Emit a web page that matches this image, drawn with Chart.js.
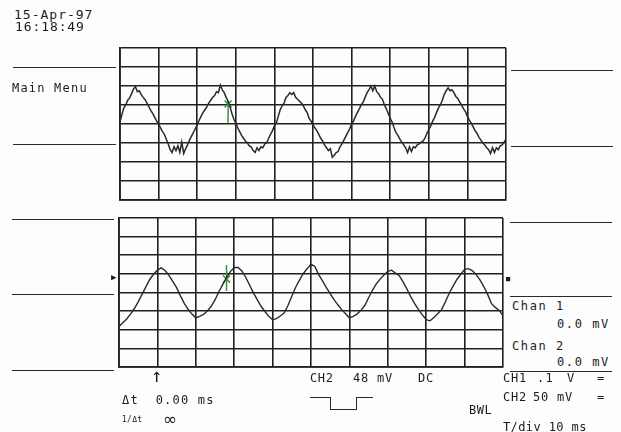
<!DOCTYPE html>
<html>
<head>
<meta charset="utf-8">
<script src="https://cdn.jsdelivr.net/npm/chart.js@4.4.1/dist/chart.umd.min.js"></script>
<style>
    html, body { margin: 0; padding: 0; }
    body { width: 621px; height: 432px; background: #fdfdfd; position: relative; overflow: hidden; }
    canvas { position: absolute; }
    .t { position: absolute; font-family: "DejaVu Sans Mono", monospace; font-size: 12px; line-height: 12px;
         letter-spacing: 1.2px; color: #1c1c1c; white-space: pre; }
    .hl { position: absolute; height: 0; border-top: 1.5px solid #2a2a2a; }
    .trig { position: absolute; border-color: #2a2a2a; border-style: solid; border-width: 0; }
</style>
</head>
<body>
<canvas id="ch1" width="394" height="160" style="left:116px; top:44px;"></canvas>
<canvas id="ch2" width="392" height="157" style="left:115px; top:214px;"></canvas>

<!-- header -->
<div class="t" style="left:14px; top:9px; font-size:13px; letter-spacing:1.0px;">15-Apr-97</div>
<div class="t" style="left:15px; top:21px; font-size:13px; letter-spacing:0.9px;">16:18:49</div>

<!-- left menu -->
<div class="hl" style="left:13px; width:103px; top:67px;"></div>
<div class="t" style="left:12px; top:82px;">Main Menu</div>
<div class="hl" style="left:13px; width:103px; top:144px;"></div>
<div class="hl" style="left:12px; width:102px; top:219px;"></div>
<div class="hl" style="left:12px; width:102px; top:294px;"></div>
<div class="hl" style="left:12px; width:102px; top:370px;"></div>

<!-- right menu -->
<div class="hl" style="left:511px; width:102px; top:70px;"></div>
<div class="hl" style="left:511px; width:102px; top:146px;"></div>
<div class="hl" style="left:510px; width:102px; top:222px;"></div>
<div class="hl" style="left:510px; width:102px; top:296px;"></div>
<div class="hl" style="left:510px; width:102px; top:371px;"></div>
<div class="t" style="left:512px; top:300px; letter-spacing:1.6px;">Chan 1</div>
<div class="t" style="left:557px; top:318px; letter-spacing:1.6px;">0.0 mV</div>
<div class="t" style="left:512px; top:340px; letter-spacing:1.6px;">Chan 2</div>
<div class="t" style="left:557px; top:356px; letter-spacing:1.6px;">0.0 mV</div>

<!-- ground markers -->
<div class="t" style="left:111px; top:271px; font-size:9px; letter-spacing:0;">▶</div>
<div class="t" style="left:506px; top:273px; font-size:7px; letter-spacing:0;">■</div>

<!-- cursor readout -->
<div class="t" style="left:151px; top:366px; font-size:19px; letter-spacing:0; line-height:19px;">↑</div>
<div class="t" style="left:122px; top:394px;">Δt  0.00 ms</div>
<div class="t" style="left:122px; top:416px; font-size:8px; letter-spacing:0.3px; line-height:8px;">1/Δt</div>
<div class="t" style="left:163px; top:411px; font-family:'DejaVu Sans'; font-size:17px; line-height:17px; letter-spacing:0;">∞</div>

<!-- trigger -->
<div class="t" style="left:310px; top:372px; letter-spacing:0.6px;">CH2</div>
<div class="t" style="left:353px; top:372px; letter-spacing:0.8px;">48 mV</div>
<div class="t" style="left:418px; top:372px; letter-spacing:0.8px;">DC</div>
<div class="trig" style="left:310px; top:397px; width:20px; border-top-width:1.5px;"></div>
<div class="trig" style="left:330px; top:397px; width:25px; height:12px; border-left-width:1.5px; border-right-width:1.5px; border-bottom-width:1.5px;"></div>
<div class="trig" style="left:356px; top:397px; width:17px; border-top-width:1.5px;"></div>
<div class="t" style="left:469px; top:404px; letter-spacing:0.5px;">BWL</div>

<!-- channel settings -->
<div class="t" style="left:503px; top:372px; letter-spacing:0.8px;">CH1</div>
<div class="t" style="left:537px; top:372px;">.1</div>
<div class="t" style="left:567px; top:372px;">V</div>
<div class="t" style="left:597px; top:372px;">=</div>
<div class="t" style="left:503px; top:391px; letter-spacing:0.8px;">CH2</div>
<div class="t" style="left:533px; top:391px; letter-spacing:0.8px;">50 mV</div>
<div class="t" style="left:597px; top:391px;">=</div>
<div class="t" style="left:503px; top:421px; letter-spacing:0.4px;">T/div 10 ms</div>

<script>
// time base: 10 divisions of 10 ms
const timeMin = 0;
const timeMax = 100;
const timePerDiv = 10;

// channel 1: 0.1 V/div, sampled every 0.5 ms (volts)
const ch1StepMs = 0.5;
const ch1Volts = [
    0.012, 0.05, 0.085, 0.10, 0.125, 0.137, 0.16, 0.185, 0.196, 0.17,
    0.175, 0.155, 0.14, 0.128, 0.11, 0.09, 0.07, 0.055, 0.035, 0.015,
    0.0, -0.02, -0.04, -0.055, -0.08, -0.105, -0.135, -0.15, -0.12, -0.14,
    -0.115, -0.15, -0.095, -0.155, -0.13, -0.11, -0.085, -0.065, -0.045, -0.025,
    -0.005, 0.02, 0.04, 0.06, 0.075, 0.09, 0.11, 0.125, 0.14, 0.15,
    0.17, 0.165, 0.205, 0.18, 0.165, 0.14, 0.12, 0.09, 0.055, 0.025,
    0.005, -0.02, -0.04, -0.06, -0.075, -0.09, -0.1, -0.115, -0.12, -0.14,
    -0.15, -0.125, -0.14, -0.12, -0.125, -0.105, -0.1, -0.075, -0.055, -0.035,
    -0.01, 0.005, 0.04, 0.075, 0.095, 0.11, 0.14, 0.15, 0.165, 0.155,
    0.165, 0.14, 0.13, 0.12, 0.11, 0.095, 0.075, 0.06, 0.03, 0.015,
    -0.005, -0.02, -0.035, -0.055, -0.075, -0.09, -0.11, -0.125, -0.14, -0.13,
    -0.175, -0.165, -0.15, -0.145, -0.12, -0.105, -0.085, -0.065, -0.045, -0.025,
    0.0, 0.015, 0.04, 0.06, 0.08, 0.1, 0.115, 0.14, 0.165, 0.18,
    0.2, 0.175, 0.2, 0.17, 0.16, 0.14, 0.13, 0.1, 0.08, 0.055,
    0.03, 0.01, -0.02, -0.045, -0.06, -0.08, -0.095, -0.11, -0.125, -0.15,
    -0.12, -0.145, -0.12, -0.125, -0.11, -0.105, -0.095, -0.09, -0.075, -0.05,
    -0.03, -0.01, 0.015, 0.035, 0.06, 0.085, 0.1, 0.125, 0.155, 0.175,
    0.19, 0.175, 0.18, 0.165, 0.145, 0.135, 0.115, 0.1, 0.08, 0.065,
    0.04, 0.02, 0.005, -0.015, -0.035, -0.05, -0.07, -0.085, -0.1, -0.11,
    -0.125, -0.135, -0.155, -0.125, -0.15, -0.125, -0.135, -0.115, -0.11, -0.095,
    -0.08
];

// channel 2: 50 mV/div, sampled every 1 ms (millivolts)
const ch2StepMs = 1;
const ch2MilliVolts = [
    -91, -81, -71, -58, -43, -25, -5, 15, 35, 49,
    60, 66, 59, 46, 30, 13, -9, -29, -45, -58,
    -68, -64, -59, -50, -37, -20, 2, 21, 40, 56,
    67, 67, 58, 41, 20, -1, -19, -37, -51, -64,
    -73, -70, -63, -55, -35, -10, 14, 33, 51, 64,
    76, 70, 48, 31, 13, -3, -19, -33, -46, -57,
    -68, -64, -58, -48, -35, -14, 6, 23, 36, 47,
    57, 60, 52, 45, 28, 9, -12, -30, -46, -60,
    -73, -76, -67, -57, -46, -25, -2, 17, 35, 49,
    62, 64, 59, 48, 34, 16, -5, -30, -40, -48,
    -62
];

// cursor position (ms) and where it sits on each trace
const cursorMs = 28;
const ch1CursorVolts = [0.065, 0.105];
const ch2CursorMilliVolts = [39, 36];

const GRID = '#202020';
const TRACE = '#2a2a2a';
const CURSOR = '#3f8f3f';

function toPoints(values, step) {
    return values.map((v, i) => ({ x: i * step, y: v }));
}

function makeScope(id, values, step, range, cursorY, cursorLen, traceWidth) {
    const ctx = document.getElementById(id).getContext('2d');
    return new Chart(ctx, {
        type: 'line',
        data: {
            datasets: [
                {
                    data: toPoints(values, step),
                    borderColor: TRACE,
                    borderWidth: traceWidth,
                    pointRadius: 0,
                    tension: 0
                },
                {
                    data: [{ x: cursorMs, y: cursorY[0] }],
                    showLine: false,
                    pointStyle: 'line',
                    rotation: 90,
                    pointRadius: cursorLen,
                    borderColor: CURSOR,
                    borderWidth: 1.5
                },
                {
                    data: [{ x: cursorMs, y: cursorY[1] }],
                    showLine: false,
                    pointStyle: 'crossRot',
                    pointRadius: 5,
                    borderColor: CURSOR,
                    borderWidth: 1.5
                }
            ]
        },
        options: {
            responsive: false,
            animation: false,
            devicePixelRatio: 1,
            layout: { padding: 4, autoPadding: false },
            plugins: { legend: { display: false }, tooltip: { enabled: false } },
            scales: {
                x: {
                    type: 'linear',
                    min: timeMin,
                    max: timeMax,
                    ticks: { display: false, stepSize: timePerDiv, padding: 0 },
                    grid: { color: GRID, lineWidth: 1.6, drawTicks: false },
                    border: { color: GRID, width: 1.8 }
                },
                y: {
                    min: -range,
                    max: range,
                    ticks: { display: false, stepSize: range / 4, padding: 0 },
                    grid: { color: GRID, lineWidth: 1.6, drawTicks: false },
                    border: { color: GRID, width: 1.8 }
                }
            }
        }
    });
}

makeScope('ch1', ch1Volts, ch1StepMs, 0.4, ch1CursorVolts, 11, 1.5);
makeScope('ch2', ch2MilliVolts, ch2StepMs, 200, ch2CursorMilliVolts, 13, 1.4);
</script>
</body>
</html>
